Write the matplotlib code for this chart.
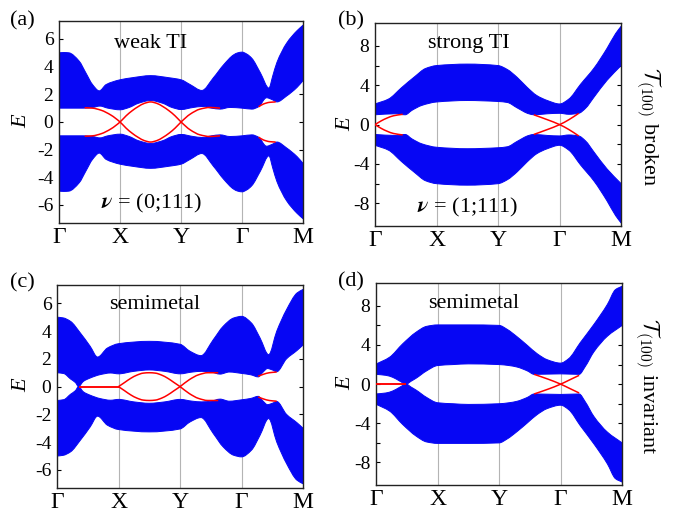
import numpy as np
import matplotlib
matplotlib.use('Agg')
from matplotlib import pyplot as plt
from matplotlib.path import Path
from matplotlib.patches import PathPatch

# k-path positions and labels
k_pts = [0, 1, 2, 3, 4]
k_labels = ['Γ', 'X', 'Y', 'Γ', 'M']

# bulk bands: only the upper band is stored (outer and inner edge),
# the lower band is its mirror image E -> -E as seen in the picture
# (a) weak TI
a_top_k = [0, 0.08, 0.16, 0.33, 0.44, 0.55, 0.66, 0.77, 0.88, 1.0, 1.2, 1.5, 1.8, 2.0, 2.15, 2.34, 2.53, 2.7, 2.86, 2.93, 3.0, 3.08, 3.16, 3.3, 3.44, 3.5, 3.57, 3.73, 3.9, 4.0]
a_top_e = [5.0, 5.02, 5.0, 4.4, 3.55, 2.7, 2.25, 2.7, 2.9, 3.05, 3.2, 3.35, 3.2, 3.05, 2.7, 2.28, 3.2, 4.15, 4.85, 5.0, 5.05, 4.9, 4.6, 3.55, 2.45, 3.3, 4.3, 5.7, 6.6, 7.0]
a_in_k = [0, 0.4, 0.55, 0.67, 0.8, 1.0, 1.15, 1.3, 1.5, 1.7, 1.85, 2.0, 2.2, 2.35, 2.5, 2.64, 2.8, 3.0, 3.16, 3.27, 3.4, 3.5, 3.57, 3.73, 3.9, 4.0]
a_in_e = [1.0, 1.0, 1.05, 1.15, 1.0, 0.88, 1.05, 1.35, 1.55, 1.35, 1.05, 0.9, 1.05, 1.12, 1.0, 0.93, 1.05, 1.0, 0.93, 1.1, 1.75, 1.6, 1.45, 1.88, 2.5, 3.0]
a_red1_k = [0.42, 0.55, 0.69, 0.85, 1.0, 1.1, 1.2, 1.3, 1.4, 1.5, 1.6, 1.7, 1.8, 1.9, 2.0, 2.15, 2.31, 2.47, 2.64]
a_red1_e = [1.03, 1.0, 0.85, 0.5, 0.0, -0.45, -0.82, -1.12, -1.35, -1.45, -1.35, -1.12, -0.82, -0.45, 0.0, 0.57, 0.93, 1.05, 1.0]
a_red2_k = [3.27, 3.35, 3.45, 3.55]
a_red2_e = [1.1, 1.3, 1.42, 1.45]

# (b) strong TI
b_top_k = [0, 0.22, 0.43, 0.65, 0.82, 1.0, 1.5, 2.0, 2.15, 2.31, 2.47, 2.63, 2.8, 3.0, 3.15, 3.34, 3.56, 3.77, 3.91, 4.0]
b_top_e = [2.1, 2.6, 3.75, 4.9, 5.7, 6.0, 6.15, 6.0, 5.6, 4.8, 3.8, 2.95, 2.45, 2.1, 2.6, 4.1, 5.75, 7.75, 9.25, 10.0]
b_in_k = [0, 0.33, 0.49, 0.6, 0.76, 1.0, 1.5, 2.0, 2.15, 2.31, 2.5, 2.58, 2.8, 3.0, 3.15, 3.31, 3.42, 3.56, 3.77, 4.0]
b_in_e = [1.0, 1.1, 1.0, 1.45, 1.95, 2.3, 2.45, 2.35, 2.25, 1.7, 1.1, 1.0, 1.1, 1.15, 1.05, 1.15, 1.65, 2.8, 4.5, 6.0]
b_red1_k = [0, 0.1, 0.2, 0.3, 0.45]
b_red1_e = [0, 0.38, 0.68, 0.9, 1.05]
b_red2_k = [2.58, 2.8, 3.0, 3.15, 3.31]
b_red2_e = [1.0, 0.5, 0.0, -0.5, -1.15]

# (c) semimetal, T(100) broken
c_top_k = [0, 0.1, 0.22, 0.38, 0.54, 0.66, 0.82, 1.0, 1.5, 2.0, 2.16, 2.34, 2.54, 2.7, 2.87, 3.0, 3.16, 3.3, 3.44, 3.57, 3.73, 3.9, 4.0]
c_top_e = [5.0, 4.95, 4.7, 3.86, 2.9, 2.13, 2.78, 3.09, 3.26, 3.05, 2.55, 2.23, 3.38, 4.34, 4.94, 5.06, 4.58, 3.5, 2.3, 3.98, 5.54, 6.74, 7.0]
c_in_k = [0, 0.11, 0.22, 0.3, 0.35, 0.43, 0.54, 0.7, 0.87, 1.0, 1.25, 1.5, 1.75, 2.0, 2.2, 2.35, 2.5, 2.65, 2.8, 3.0, 3.15, 3.27, 3.35, 3.42, 3.5, 3.57, 3.73, 3.9, 4.0]
c_in_e = [1.0, 0.94, 0.55, 0.29, 0.0, 0.38, 0.62, 0.86, 0.98, 0.92, 1.1, 1.2, 1.1, 0.92, 1.05, 1.1, 1.05, 0.9, 1.05, 0.95, 0.85, 0.7, 1.05, 1.3, 1.2, 1.07, 2.0, 2.6, 3.0]
c_red1_k = [0.35, 1.0]
c_red1_e = [0.0, 0.0]
c_red2_k = [1.0, 1.1, 1.2, 1.3, 1.4, 1.5, 1.6, 1.7, 1.8, 1.9, 2.0, 2.15, 2.3, 2.45, 2.62]
c_red2_e = [0.0, -0.3, -0.6, -0.83, -0.97, -1.0, -0.97, -0.83, -0.6, -0.3, 0.0, 0.5, 0.85, 1.0, 1.0]
c_red3_k = [3.27, 3.35, 3.45, 3.57]
c_red3_e = [0.75, 0.88, 1.0, 1.05]

# (d) semimetal, T(100) invariant
d_top_k = [0, 0.22, 0.43, 0.65, 0.82, 1.0, 1.5, 2.0, 2.13, 2.29, 2.46, 2.62, 2.78, 3.0, 3.13, 3.32, 3.54, 3.76, 3.89, 4.0]
d_top_e = [2.05, 2.75, 4.1, 5.3, 5.9, 6.05, 6.05, 6.0, 5.6, 4.85, 3.95, 3.1, 2.5, 2.15, 2.6, 4.25, 6.1, 8.15, 9.65, 10.0]
d_in_k = [0, 0.16, 0.27, 0.38, 0.49, 0.57, 0.65, 0.82, 1.0, 1.25, 1.5, 2.0, 2.16, 2.29, 2.46, 2.57, 3.0, 3.3, 3.4, 3.54, 3.76, 4.0]
d_in_e = [1.0, 0.9, 0.7, 0.33, 0.0, 0.3, 0.6, 1.35, 1.9, 2.0, 2.07, 2.0, 1.9, 1.75, 1.35, 1.0, 1.05, 1.0, 1.8, 3.3, 4.9, 6.0]
d_red1_k = [0, 0.49]
d_red1_e = [0.0, 0.0]
d_red2_k = [2.57, 2.8, 3.0, 3.15, 3.3]
d_red2_e = [1.0, 0.5, 0.0, -0.45, -0.9]

SERIF = 'Liberation Serif'
BLUE = '#0606f4'

plt.rcParams['font.family'] = SERIF
plt.rcParams['mathtext.fontset'] = 'stix'


def bezier_through(xs, ys):
    # smooth cubic Bezier segments through the read points (monotone tangents, no overshoot)
    xs = np.asarray(xs, float)
    ys = np.asarray(ys, float)
    n = len(xs)
    if n < 3:
        return [tuple(p) for p in zip(xs, ys)], [Path.MOVETO] + [Path.LINETO]*(n-1)
    h = np.diff(xs)
    d = np.diff(ys)/h
    m = np.zeros(n)
    for i in range(1, n-1):
        if d[i-1]*d[i] > 0:
            w1 = 2*h[i] + h[i-1]
            w2 = h[i] + 2*h[i-1]
            m[i] = (w1 + w2)/(w1/d[i-1] + w2/d[i])
    m[0] = d[0]
    m[-1] = d[-1]
    verts = [(xs[0], ys[0])]
    codes = [Path.MOVETO]
    for i in range(n-1):
        verts += [(xs[i] + h[i]/3, ys[i] + m[i]*h[i]/3),
                  (xs[i+1] - h[i]/3, ys[i+1] - m[i+1]*h[i]/3),
                  (xs[i+1], ys[i+1])]
        codes += [Path.CURVE4]*3
    return verts, codes


def draw_panel(ax, top_k, top_e, in_k, in_e, reds, ylim, yticks, ylabels):
    for kk in k_pts[1:4]:
        ax.axvline(kk, color='#b4b4b4', lw=0.8, zorder=1)
    for sgn in (1, -1):
        v1, c1 = bezier_through(top_k, sgn*np.array(top_e))
        v2, c2 = bezier_through(in_k[::-1], sgn*np.array(in_e[::-1]))
        c2[0] = Path.LINETO
        verts = v1 + v2 + [v1[0]]
        codes = c1 + c2 + [Path.CLOSEPOLY]
        ax.add_patch(PathPatch(Path(verts, codes), facecolor=BLUE, edgecolor=BLUE,
                               lw=0.7, zorder=2))
    for rk, re in reds:
        for sgn in (1, -1):
            v, c = bezier_through(rk, sgn*np.array(re))
            ax.add_patch(PathPatch(Path(v, c), fill=False, edgecolor='red',
                                   lw=1.1, zorder=3))
    ax.set_xlim(0, 4)
    ax.set_ylim(*ylim)
    ax.set_xticks(k_pts)
    ax.set_xticklabels(k_labels, fontsize=17)
    ax.set_yticks(yticks)
    ax.set_yticklabels(ylabels, fontsize=14)
    ax.tick_params(axis='x', length=0, pad=3)
    ax.tick_params(axis='y', direction='in', length=3, right=True, pad=4, width=0.8)
    for s in ax.spines.values():
        s.set_linewidth(1.0)
        s.set_color('#222222')


fig = plt.figure(figsize=(6.8, 5.12), dpi=100)
ax_a = fig.add_axes([0.0868, 0.5645, 0.359, 0.3945])
ax_b = fig.add_axes([0.5515, 0.5586, 0.362, 0.396])
ax_c = fig.add_axes([0.0838, 0.0469, 0.362, 0.396])
ax_d = fig.add_axes([0.553, 0.0527, 0.362, 0.394])

small_ticks = [-6, -4, -2, 0, 2, 4, 6]
small_labels = ['-6', '-4', '-2', '0', '2', '4', '6']
big_ticks = [-8, -6, -4, -2, 0, 2, 4, 6, 8]
big_labels = ['-8', '', '-4', '', '0', '', '4', '', '8']

draw_panel(ax_a, a_top_k, a_top_e, a_in_k, a_in_e,
           [(a_red1_k, a_red1_e), (a_red2_k, a_red2_e)],
           (-7.3, 7.3), small_ticks, small_labels)
draw_panel(ax_b, b_top_k, b_top_e, b_in_k, b_in_e,
           [(b_red1_k, b_red1_e), (b_red2_k, b_red2_e)],
           (-10.3, 10.3), big_ticks, big_labels)
draw_panel(ax_c, c_top_k, c_top_e, c_in_k, c_in_e,
           [(c_red1_k, c_red1_e), (c_red2_k, c_red2_e), (c_red3_k, c_red3_e)],
           (-7.3, 7.3), small_ticks, small_labels)
draw_panel(ax_d, d_top_k, d_top_e, d_in_k, d_in_e,
           [(d_red1_k, d_red1_e), (d_red2_k, d_red2_e)],
           (-10.3, 10.3), big_ticks, big_labels)

# in-panel texts
ax_a.text(1.5, 5.7, 'weak TI', ha='center', va='center', fontsize=16)
ax_a.text(1.52, -5.9, r'$\boldsymbol{\nu}$ = (0;111)', ha='center', va='center', fontsize=16)
ax_b.text(1.52, 8.2, 'strong TI', ha='center', va='center', fontsize=16)
ax_b.text(1.5, -8.4, r'$\boldsymbol{\nu}$ = (1;111)', ha='center', va='center', fontsize=16)
ax_c.text(1.58, 5.9, 'semimetal', ha='center', va='center', fontsize=16)
ax_d.text(1.58, 8.2, 'semimetal', ha='center', va='center', fontsize=16)

W, H = 680.0, 512.0
def fx(x): return x/W
def fy(y): return 1 - y/H

# panel letters
for lab, (px, py) in zip(['(a)', '(b)', '(c)', '(d)'],
                         [(22, 21), (351, 21), (22, 283), (351, 282)]):
    fig.text(fx(px), fy(py), lab, ha='center', va='center', fontsize=16)

# E axis labels
for px, py in [(22, 121), (346, 124), (22, 385), (346, 383)]:
    fig.text(fx(px), fy(py), 'E', ha='center', va='center', fontsize=16,
             style='italic', rotation=90)

# right side labels
fig.text(fx(648), fy(126), r'$\mathcal{T}_{(100)}$ broken', ha='center', va='center',
         fontsize=16, rotation=270, math_fontfamily='cm')
fig.text(fx(647), fy(386), r'$\mathcal{T}_{(100)}$ invariant', ha='center', va='center',
         fontsize=16, rotation=270, math_fontfamily='cm')

fig.savefig('out.png', dpi=100)
